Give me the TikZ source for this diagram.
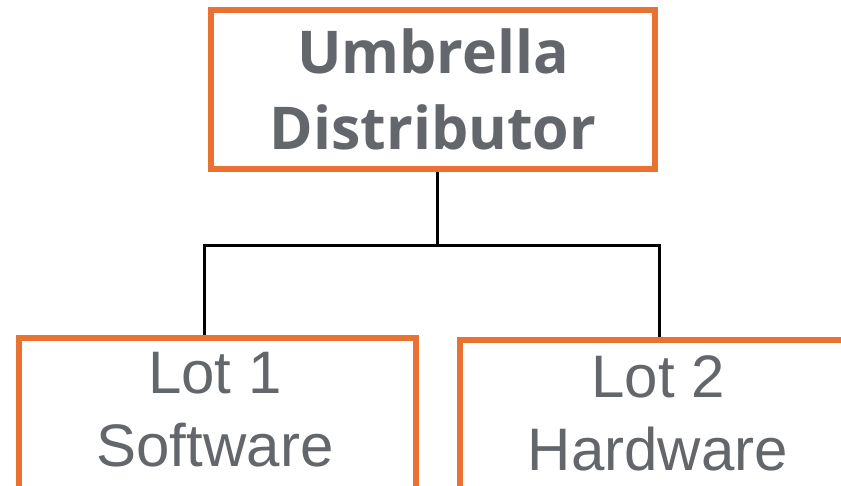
\documentclass[tikz,border=0pt]{standalone}
\usepackage{fontspec}
\setmainfont{Liberation Sans}
\newfontfamily\topfont{Open Sans}
\definecolor{orng}{HTML}{E97132}
\definecolor{txtgray}{HTML}{63666A}
\begin{document}
\begin{tikzpicture}[x=1pt,y=-1pt,
  box/.style={draw=orng, line width=6pt, fill=white, inner sep=0pt, rectangle},
  topbox/.style={box, minimum width=444pt, minimum height=159pt, text=txtgray,
    align=center, font=\topfont\bfseries\fontsize{59}{76}\selectfont},
  lotbox/.style={box, minimum width=397pt, minimum height=220pt},
  lbl/.style={text=txtgray, inner sep=0pt, align=center, font=\fontsize{60}{73}\selectfont},
  conn/.style={draw=black, line width=3pt}]
\useasboundingbox (0,0) rectangle (841,486);
\clip (0,0) rectangle (841,486);
\node[topbox] (top) at (433,89.5) {Umbrella\\Distributor};
\node[lotbox] (lot1) at (217.5,448) {};
\node[lotbox] (lot2) at (658,450) {};
\node[lbl] (t1) at (215,410) {Lot 1\\Software};
\node[lbl] (t2) at (658,413) {Lot 2\\Hardware};
\coordinate (j) at (437,246);
\coordinate (jl) at (204,246);
\coordinate (jr) at (659,246);
\draw[conn] (top.south -| j) -- (j);
\draw[conn, line cap=rect] (jl) -- (jr);
\draw[conn] (jl) -- (jl |- lot1.north);
\draw[conn] (jr) -- (jr |- lot2.north);
\end{tikzpicture}
\end{document}
